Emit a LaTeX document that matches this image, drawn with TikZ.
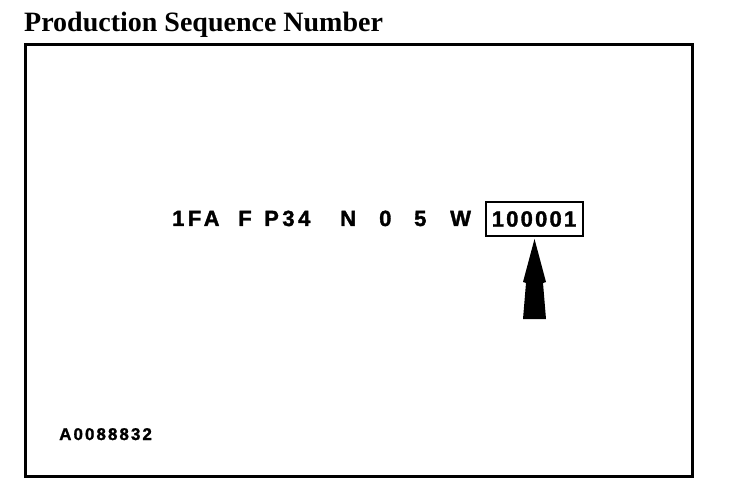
\documentclass[tikz,border=0pt]{standalone}
\usepackage{fontspec}
\setmainfont{Liberation Serif}
\newfontfamily\vinfont[LetterSpace=16,FakeBold=1.5]{Liberation Sans}
\newfontfamily\seqfont[LetterSpace=10,FakeBold=1.5]{Liberation Sans}
\newfontfamily\figfont[LetterSpace=12,FakeBold=1.2]{Liberation Sans}

\begin{document}
\begin{tikzpicture}[x=1pt,y=-1pt,
        vin/.style={anchor=base west,inner sep=0pt,font=\vinfont\fontsize{22}{24}\bfseries},
        seqbox/.style={draw,line width=2pt,minimum width=97pt,minimum height=34pt,inner sep=0pt,font=\seqfont\fontsize{22}{24}\bfseries}]
                \useasboundingbox (0,0) rectangle (736,494);
                \node[anchor=base west,inner sep=0pt,font=\fontsize{28}{30}\bfseries] (title) at (24,32) {Production Sequence Number};
                \draw[line width=3pt] (25,45) rectangle (692,476);
                % VIN characters
                \node[vin] (wmi) at (172,226) {1FA};
                \node[vin] (restr) at (238,226) {F};
                \node[vin] (model) at (264,226) {P34};
                \node[vin] (engine) at (340,226) {N};
                \node[vin] (check) at (379,226) {0};
                \node[vin] (year) at (414,226) {5};
                \node[vin] (plant) at (450,226) {W};
                \node[seqbox] (seq) at (534,219) {\raisebox{-1pt}{100001}};
                % arrow up to the sequence number
                \coordinate (tip) at (534.5,239);
                \fill[black] (tip) -- ++(11.5,43) -- ++(-3,1) -- ++(3,36) -- ++(-23,0) -- ++(3,-36) -- ++(-3,-1) -- cycle;
                \node[anchor=base west,inner sep=0pt,font=\figfont\fontsize{17}{18}\bfseries] (fig) at (59,440) {A0088832};
            \end{tikzpicture}
\end{document}
